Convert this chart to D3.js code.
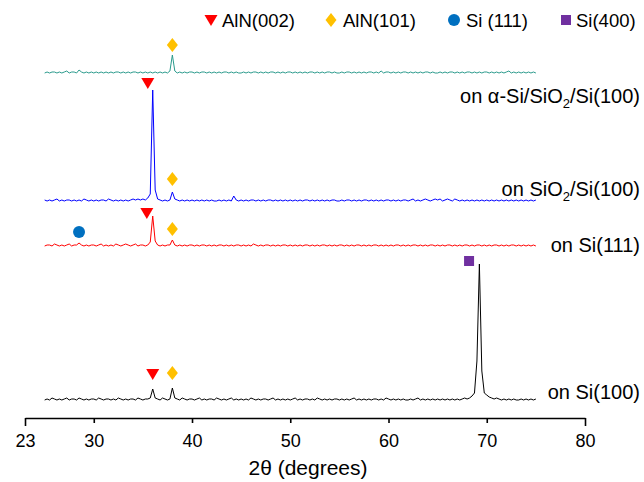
<!DOCTYPE html>
<html><head><meta charset="utf-8">
<script src="https://cdn.jsdelivr.net/npm/d3@7"></script>
<style>body{margin:0;background:#fff} text{font-family:"Liberation Sans",Arial,sans-serif;fill:#000}</style>
</head><body><svg id="c" width="644" height="482"></svg>
<script>
// 2θ sampling grid: 25.00 .. 75.00 step 0.25 (201 points)
const thetaStart = 25, thetaStep = 0.25;
const xTicks = [23, 30, 40, 50, 60, 70, 80];

const seriesNames = ["Si100", "Si111", "SiO2", "aSi"];
const seriesColors = ["#000000", "#ff0000", "#0000ff", "#2a9a8c"];
const seriesOffsets = [0, 154, 199, 327];

const intenSi100 = [
1,2,1,3,2,1,2,1,2,3,1,2,2,1,3,2,1,2,1,2,
2,1,3,2,1,2,2,1,2,1,3,2,1,2,1,2,2,1,3,2,
1,2,2,3,12,3,2,1,3,2,1,2,13,3,2,1,3,2,1,2,
2,1,2,3,1,2,1,2,2,1,3,2,1,2,1,2,3,1,2,1,
2,1,2,1,3,2,1,2,1,2,2,1,2,3,1,2,1,2,1,2,
1,2,3,1,2,1,2,2,1,2,1,3,2,1,2,1,2,1,2,2,
1,2,1,2,1,2,3,1,2,1,2,1,2,1,2,2,1,2,1,3,
2,1,2,1,2,1,2,1,1,2,1,2,3,1,2,1,2,1,2,1,
2,1,2,1,2,1,2,1,2,1,2,3,2,3,5,8,40,137,30,8,
6,4,3,2,3,2,1,2,1,2,1,2,1,1,2,1,2,1,2,1,
2];
const intenSi111 = [
1,2,2,1,3,2,1,2,1,2,3,1,2,2,4,2,1,2,1,2,
2,1,2,3,1,2,1,2,1,3,2,1,2,3,2,1,2,3,1,2,
2,1,2,5,31,6,2,1,2,1,2,2,7,2,1,2,1,2,1,2,
2,1,2,1,2,2,1,2,1,2,1,2,2,1,2,1,2,1,2,2,
1,2,1,2,1,3,2,1,2,1,2,2,1,2,1,2,1,2,2,1,
2,1,2,1,2,1,2,2,1,2,1,2,1,2,2,1,2,1,2,1,
2,2,1,2,1,2,1,2,2,1,2,1,2,1,2,2,1,2,1,2,
1,2,1,2,2,1,2,1,2,1,2,2,1,2,1,2,1,2,2,1,
2,1,2,1,2,2,1,2,1,2,1,2,2,1,2,1,2,2,1,2,
1,2,1,2,2,1,2,1,2,1,2,2,1,2,1,2,1,2,1,2,
1];
const intenSiO2 = [
2,1,2,1,2,3,1,2,1,2,2,1,2,1,2,1,3,2,1,2,
1,2,1,2,2,1,3,2,1,2,1,2,1,2,1,2,3,2,3,2,
3,2,4,8,112,12,3,2,1,2,1,2,10,3,2,1,2,1,2,1,
2,1,2,1,2,1,2,1,2,1,1,2,1,2,1,2,1,6,2,1,
2,1,2,1,2,2,1,2,1,2,1,2,2,1,2,1,2,1,2,1,
2,1,2,1,2,1,2,2,1,2,1,2,1,2,1,2,1,2,2,1,
1,2,1,2,2,1,2,1,2,1,2,2,1,2,1,2,1,2,1,2,
2,1,2,1,2,1,2,2,1,2,3,1,2,1,2,3,2,1,2,3,
2,3,1,2,3,2,1,3,2,1,2,1,2,1,2,1,2,1,2,1,
2,1,2,1,2,1,2,1,2,1,2,1,2,1,2,1,2,1,2,1,
2];
const intenASi = [
1,2,1,2,2,1,2,1,2,3,1,2,2,1,4,2,1,2,1,2,
1,2,1,2,1,2,1,2,1,2,2,1,2,1,2,1,2,2,1,2,
1,2,1,2,1,2,1,2,1,2,1,3,19,3,1,2,1,2,1,2,
2,1,2,1,2,2,1,2,1,2,1,2,1,2,2,1,2,1,2,1,
1,2,1,2,1,2,2,1,2,1,2,1,2,2,1,2,1,2,1,2,
2,1,2,1,2,1,2,1,2,2,1,2,1,2,1,2,2,1,2,1,
1,2,1,2,2,1,2,1,2,1,2,1,2,2,1,2,1,3,1,2,
2,1,2,1,2,1,2,2,1,2,1,2,1,2,1,2,2,1,2,1,
1,2,1,2,1,2,2,1,2,1,2,1,2,2,1,2,1,2,1,2,
2,1,2,1,2,1,2,1,2,3,1,2,1,2,1,2,1,2,1,2,
1];
const allIntens = [intenSi100, intenSi111, intenSiO2, intenASi];

const seriesLabels = ["on Si(100)", "on Si(111)", "on SiO2/Si(100)", "on α-Si/SiO2/Si(100)"];

// markers: type, 2θ, y-level (same units as intensity axis incl. offset)
const markerTypes = ["tri", "tri", "tri", "dia", "dia", "dia", "dia", "circ", "sq"];
const markerTheta = [35.5, 35.4, 36.0, 38.0, 38.0, 38.0, 38.0, 28.5, 68.2];
const markerLevel = [318, 188, 27, 356, 222, 172, 28, 169, 140];

const legendNames = ["AlN(002)", "AlN(101)", "Si (111)", "Si(400)"];
const legendTypes = ["tri", "dia", "circ", "sq"];
const markerColors = {tri: "#ff0000", dia: "#ffc000", circ: "#0070c0", sq: "#7030a0"};

const svg = d3.select("#c");
const x = d3.scaleLinear().domain([23, 80]).range([25, 585]);
const y = d3.scaleLinear().domain([0, 340]).range([401, 61]);

// traces
const line = d3.line().x(d => x(d[0])).y(d => y(d[1]));
allIntens.forEach((arr, s) => {
  const pts = arr.map((v, i) => [thetaStart + i * thetaStep, v + seriesOffsets[s]]);
  svg.append("path").attr("d", line(pts)).attr("fill", "none")
    .attr("stroke", seriesColors[s]).attr("stroke-width", 1).attr("stroke-linejoin", "round");
});

// axis
const ax = svg.append("g").attr("transform", "translate(0,418)")
  .call(d3.axisBottom(x).tickValues(xTicks).tickSizeInner(5).tickSizeOuter(0).tickPadding(11).tickFormat(d3.format("d")));
ax.select(".domain").attr("stroke", "#000").attr("stroke-width", 1.6);
ax.selectAll(".tick line").attr("stroke", "#000").attr("stroke-width", 1.6)
  .attr("y2", d => (d === 23 || d === 80) ? 8 : 5);
ax.selectAll(".tick text").attr("font-size", 18).attr("font-family", "'Liberation Sans',Arial,sans-serif").attr("fill", "#000");
svg.append("text").attr("x", 308).attr("y", 475).attr("text-anchor", "middle")
  .attr("font-size", 21).text("2θ (degrees)");

// symbol drawer
function drawSym(g, type, cx, cy) {
  const c = markerColors[type];
  if (type === "tri") g.append("path").attr("d", `M${cx-6.5},${cy-5}L${cx+6.5},${cy-5}L${cx},${cy+6}Z`).attr("fill", c);
  else if (type === "dia") g.append("path").attr("d", `M${cx},${cy-7}L${cx+5.5},${cy}L${cx},${cy+7}L${cx-5.5},${cy}Z`).attr("fill", c);
  else if (type === "circ") g.append("circle").attr("cx", cx).attr("cy", cy).attr("r", 6).attr("fill", c);
  else if (type === "sq") g.append("rect").attr("x", cx-5).attr("y", cy-5).attr("width", 10).attr("height", 10).attr("fill", c);
}
const mg = svg.append("g");
markerTypes.forEach((t, i) => drawSym(mg, t, x(markerTheta[i]), y(markerLevel[i])));

// series labels (right aligned)
const labelY = [399, 252, 196, 103];
seriesLabels.forEach((lab, i) => {
  const t = svg.append("text").attr("x", 640).attr("y", labelY[i]).attr("text-anchor", "end").attr("font-size", 20);
  if (lab.includes("SiO2")) {
    const k = lab.indexOf("SiO2") + 3;
    t.append("tspan").text(lab.slice(0, k));
    t.append("tspan").attr("dy", 5).attr("font-size", 13).text("2");
    t.append("tspan").attr("dy", -5).text(lab.slice(k + 1));
  } else t.text(lab);
});

// legend
const legX = [211, 331, 454, 566];
const legTextX = [222, 343, 466, 576];
const lg = svg.append("g");
legendNames.forEach((n, i) => {
  drawSym(lg, legendTypes[i], legX[i], 20);
  lg.append("text").attr("x", legTextX[i]).attr("y", 26.5).attr("font-size", 18.5).text(n);
});
</script></body></html>
